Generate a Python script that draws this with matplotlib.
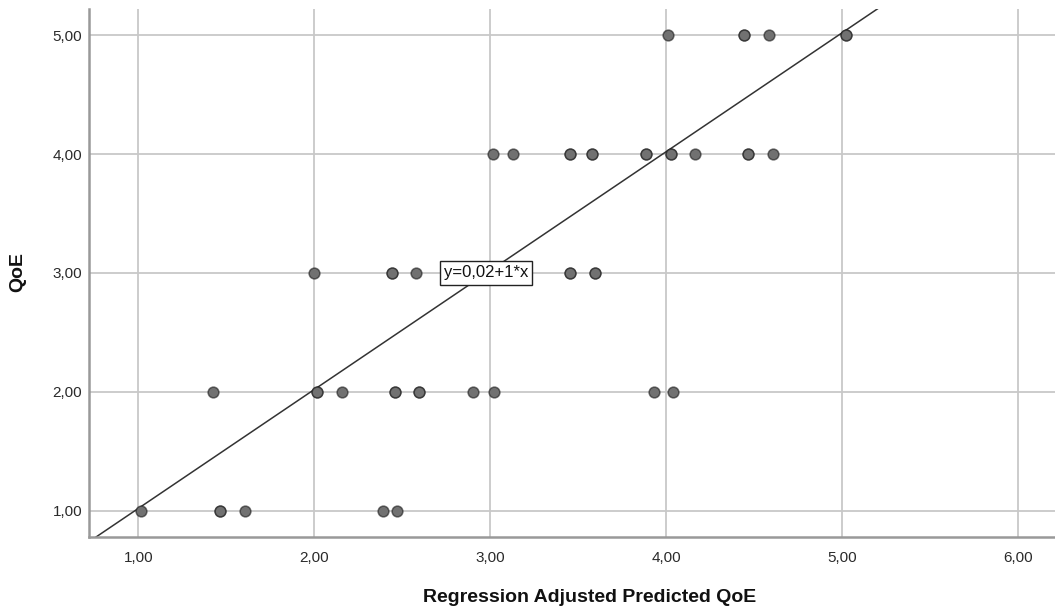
import matplotlib
matplotlib.use("Agg")
from matplotlib import pyplot as plt
from matplotlib.ticker import FuncFormatter
import numpy as np

plt.rcParams['font.family'] = ['Liberation Sans', 'DejaVu Sans']

# predicted values per observed QoE level (repeated values = overlapping cases)
pred_q5 = [4.01, 4.44, 4.44, 4.585, 5.025, 5.025]
pred_q4 = [3.017, 3.13, 3.453, 3.453, 3.58, 3.58, 3.883, 3.883,
           4.025, 4.025, 4.165, 4.466, 4.466, 4.605]
pred_q3 = [2.00, 2.44, 2.44, 2.58, 3.453, 3.453, 3.595, 3.595]
pred_q2 = [1.426, 2.014, 2.014, 2.16, 2.459, 2.459, 2.597, 2.597,
           2.90, 3.02, 3.93, 4.04]
pred_q1 = [1.015, 1.464, 1.464, 1.606, 2.389, 2.47]
qoe_levels = [5, 4, 3, 2, 1]

fit_intercept = 0.02
fit_slope = 1.0
fit_label = "y=0,02+1*x"

xticks = [1, 2, 3, 4, 5, 6]
yticks = [1, 2, 3, 4, 5]

groups = [pred_q5, pred_q4, pred_q3, pred_q2, pred_q1]
xs = np.concatenate([np.array(g) for g in groups])
ys = np.concatenate([np.full(len(g), lvl) for g, lvl in zip(groups, qoe_levels)])

fig = plt.figure(figsize=(10.55, 6.13), dpi=100)
ax = fig.add_axes([89/1055, 76/613, (1055-89)/1055, (537-9)/613])

ax.set_xlim(0.72, 6.21)
ax.set_ylim(0.78, 5.22)

ax.set_xticks(xticks)
ax.set_yticks(yticks)
fmt = FuncFormatter(lambda v, p: f"{v:.2f}".replace(".", ","))
ax.xaxis.set_major_formatter(fmt)
ax.yaxis.set_major_formatter(fmt)
ax.tick_params(length=0, labelsize=11, colors='#2a2a2a')
ax.tick_params(axis='y', pad=5)
ax.tick_params(axis='x', pad=10)

ax.grid(True, color='#c8c8c8', linewidth=1.3)
ax.set_axisbelow(True)
for s in ['top', 'right']:
    ax.spines[s].set_visible(False)
for s in ['left', 'bottom']:
    ax.spines[s].set_color('#999999')
    ax.spines[s].set_linewidth(1.8)

# fit line
lx = np.array([0.5, 6.5])
ax.plot(lx, fit_intercept + fit_slope * lx, color='#333333', linewidth=1.1, zorder=2)

ax.scatter(xs, ys, s=60, facecolor='#717171', edgecolor=(0.1, 0.1, 0.1, 0.6),
           linewidth=1.1, zorder=3)

ax.text(2.976, 3.0, fit_label, ha='center', va='center', fontsize=12,
        color='#111111', zorder=4,
        bbox=dict(boxstyle='square,pad=0.25', facecolor='white',
                  edgecolor='#222222', linewidth=1))

fig.text(590/1055, 1 - 597/613, "Regression Adjusted Predicted QoE",
         ha='center', va='center', fontsize=14, fontweight='bold', color='#111111')
fig.text(18/1055, 1 - 272/613, "QoE", ha='center', va='center', rotation=90,
         fontsize=14, fontweight='bold', color='#111111')

fig.savefig("out.png", dpi=100)
